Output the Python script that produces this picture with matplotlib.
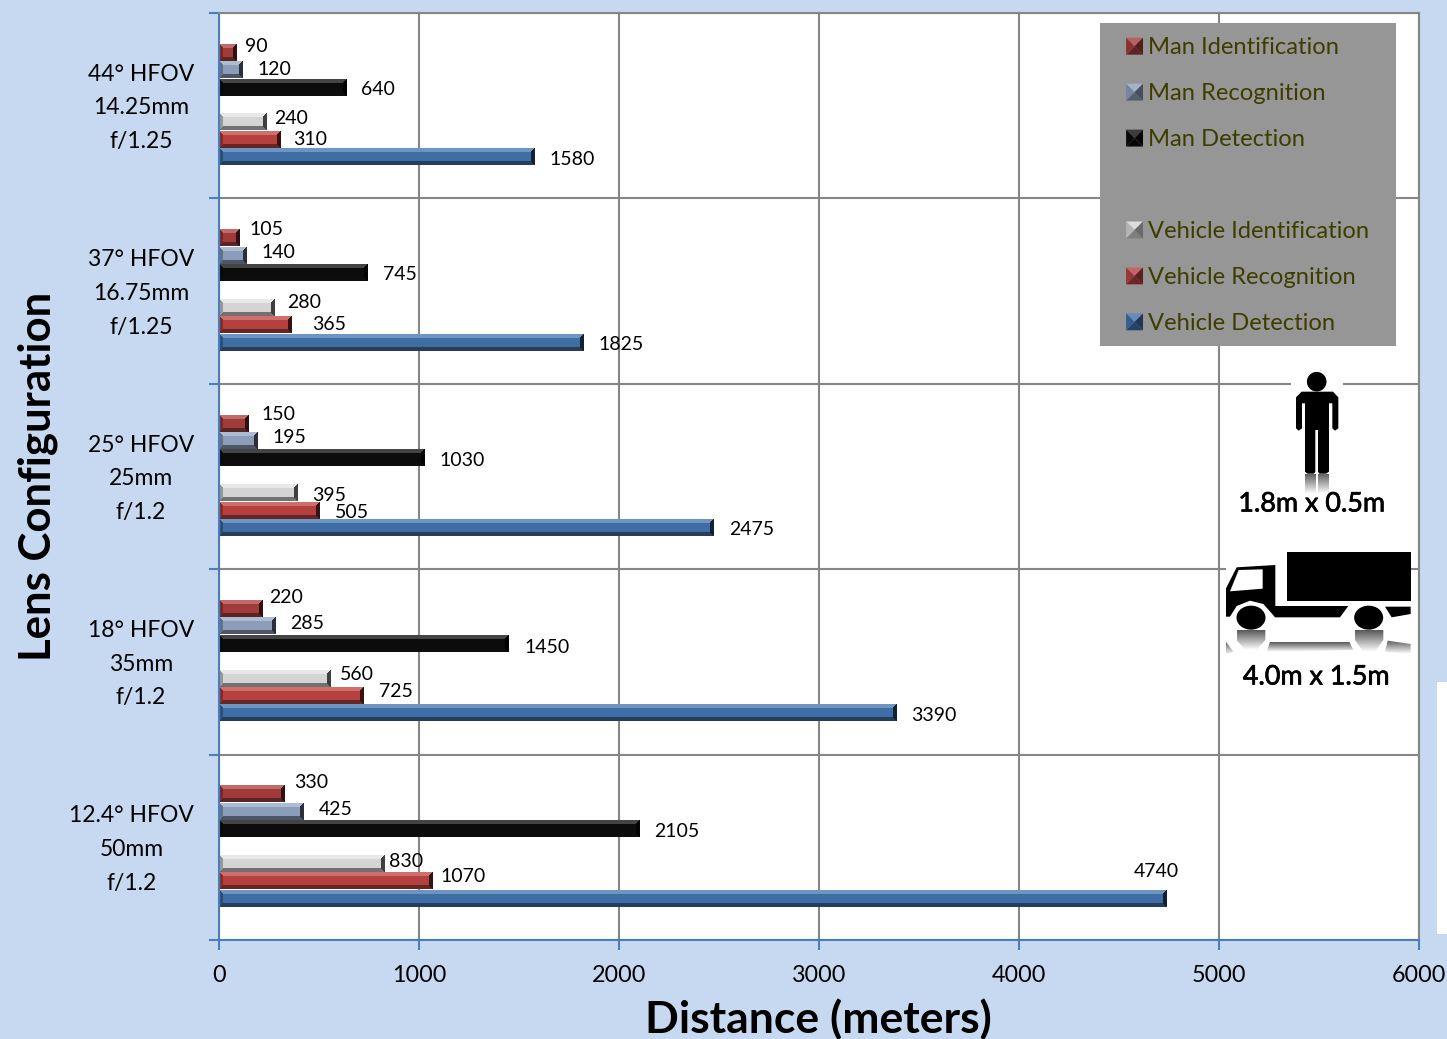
import numpy as np
import matplotlib
matplotlib.use("Agg")
import matplotlib.pyplot as plt
import matplotlib.patheffects as pe
from matplotlib.patches import Patch, Polygon, Rectangle, Circle, Ellipse
from matplotlib.legend_handler import HandlerBase

# ---- data -------------------------------------------------------------
lens_labels = ["12.4° HFOV\n50mm\nf/1.2", "18° HFOV\n35mm\nf/1.2", "25° HFOV\n25mm\nf/1.2",
               "37° HFOV\n16.75mm\nf/1.25", "44° HFOV\n14.25mm\nf/1.25"]
vehicle_detection = [4740, 3390, 2475, 1825, 1580]
vehicle_recognition = [1070, 725, 505, 365, 310]
vehicle_identification = [830, 560, 395, 280, 240]
man_detection = [2105, 1450, 1030, 745, 640]
man_recognition = [425, 285, 195, 140, 120]
man_identification = [330, 220, 150, 105, 90]
x_ticks = [0, 1000, 2000, 3000, 4000, 5000, 6000]

# label offsets (px): horizontal from bar end, vertical above bar centre
lab_dx = {
 "vd": [-33, 15, 16, 15, 15], "vr": [8, 16, 15, 21, 13], "vi": [5, 9, 15, 13, 8],
 "md": [15, 16, 15, 15, 15], "mr": [15, 15, 15, 15, 15], "mi": [10, 7, 13, 10, 9]}
lab_dy = {
 "vd": [28, -2, -1, -2, -2], "vr": [5, 5, -2, 1, 1], "vi": [3, 4, -2, 6, 4],
 "md": [-2, -3, -2, -1, -2], "mr": [3, 3, 4, 3, 1], "mi": [12, 12, 9, 9, 7]}

series = [  # key, label, values, base colour, slot
 ("vd", "Vehicle Detection", vehicle_detection, "#3f6ea6", -3),
 ("vr", "Vehicle Recognition", vehicle_recognition, "#b5403d", -2),
 ("vi", "Vehicle Identification", vehicle_identification, "#d4d4d4", -1),
 ("md", "Man Detection", man_detection, "#0c0c0c", 1),
 ("mr", "Man Recognition", man_recognition, "#8c9dbb", 2),
 ("mi", "Man Identification", man_identification, "#a23b39", 3),
]

W, H = 1447, 1039
BG = "#c6d9f1"
GRID = "#868686"
BLUE = "#4a7ebb"
FONT = "Lato"
plt.rcParams["font.family"] = [FONT, "DejaVu Sans"]

fig = plt.figure(figsize=(W / 100, H / 100), dpi=100, facecolor=BG)
L, R, T, B = 219, 1419, 13, 940
ax = fig.add_axes([L / W, 1 - B / H, (R - L) / W, (B - T) / H], facecolor="white")
PXX = (R - L) / 6000
PXY = (B - T) / 5
slot = 17.4 / PXY
bar_h = 16.6 / PXY


def bevel(color, w, h, b=4.0):
    """RGB array for a bevelled bar of w x h pixels."""
    w, h = max(int(round(w)), 2), max(int(round(h)), 2)
    base = np.array(matplotlib.colors.to_rgb(color))
    yy, xx = np.mgrid[0:h, 0:w] + 0.5
    dt, db, dl, dr = yy, h - yy, xx, w - xx
    dmin = np.minimum.reduce([dt, db, dl, dr])
    img = np.tile(base, (h, w, 1))
    light = base + (1 - base) * 0.18 + 0.05
    dark = base * 0.5 + 0.03
    edge = dmin < b
    img[edge & (dt == dmin)] = light
    img[edge & (db == dmin)] = dark
    img[edge & (dl == dmin)] = base * 0.72
    img[edge & (dr == dmin)] = base * 0.3
    return np.clip(img, 0, 1)


ax.set_axisbelow(True)
for key, label, values, color, s in series:
    ys = np.arange(5) + 0.5 + 0.005 + s * slot
    ax.barh(ys, values, height=bar_h, color=color, zorder=2, linewidth=0)
    for i, (v, y) in enumerate(zip(values, ys)):
        ax.imshow(bevel(color, v * PXX, 16.6), extent=(0, v, y - bar_h / 2, y + bar_h / 2),
                  aspect="auto", origin="upper", interpolation="bilinear", zorder=2.5)
        ax.annotate(str(v), xy=(v, y), xytext=((lab_dx[key][i] - 0.5) * 0.72, (lab_dy[key][i] - 0.5) * 0.72),
                    textcoords="offset points", ha="left", va="center",
                    fontsize=14, color="black", zorder=4)

ax.set_xlim(0, 6000)
ax.set_ylim(0, 5)
ax.set_xticks(x_ticks)
ax.set_yticks(range(6))
ax.set_yticks(np.arange(5) + 0.533, minor=True)
ax.set_yticklabels([])
ax.set_yticklabels(lens_labels, minor=True, ha="right", multialignment="center",
                   fontsize=16.5, linespacing=1.75)
ax.tick_params(axis="y", which="minor", length=0, pad=18)
ax.tick_params(axis="y", which="major", length=7, color=BLUE, width=1.5)
ax.tick_params(axis="x", length=7, color=BLUE, width=1.5, labelsize=16.8, pad=11)
ax.grid(True, which="major", color=GRID, linewidth=1.5, zorder=1)
for side in ("top", "right"):
    ax.spines[side].set_color(GRID)
    ax.spines[side].set_linewidth(1.5)
for side in ("left", "bottom"):
    ax.spines[side].set_color(BLUE)
    ax.spines[side].set_linewidth(1.5)

# axis titles
fig.text(818 / W, 1 - 1019 / H, "Distance (meters)", ha="center", va="center",
         fontsize=32, fontweight="bold")
fig.text(38 / W, 1 - 476 / H, "Lens Configuration", ha="center", va="center",
         rotation=90, fontsize=31.5, fontweight="bold")

# ---- overlay in pixel coordinates for legend box and icons -------------
ov = fig.add_axes([0, 0, 1, 1], facecolor="none", zorder=5)
ov.set_xlim(0, W)
ov.set_ylim(H, 0)
ov.axis("off")
ov.add_patch(Rectangle((1100, 23), 296, 323, facecolor="#969696", edgecolor="none"))
ov.add_patch(Rectangle((1437, 682), 10, 252, facecolor="white", edgecolor="none"))


class PyramidHandler(HandlerBase):
    def create_artists(self, legend, orig, xd, yd, width, height, fontsize, trans):
        c = np.array(matplotlib.colors.to_rgb(orig.get_facecolor()))
        s = min(width, height) * 1.0
        x0, y0 = (width - s) / 2 - xd, (height - s) / 2 - yd
        x1, y1 = x0 + s, y0 + s
        mx, my = (x0 + x1) / 2, (y0 + y1) / 2
        faces = [([(x0, y1), (x1, y1), (mx, my)], np.clip(c + (1 - c) * 0.2, 0, 1)),
                 ([(x0, y0), (x1, y0), (mx, my)], c * 0.6),
                 ([(x0, y0), (x0, y1), (mx, my)], c * 0.85),
                 ([(x1, y0), (x1, y1), (mx, my)], c * 0.5)]
        return [Polygon(p, closed=True, facecolor=col, edgecolor="none", transform=trans)
                for p, col in faces]


order = ["mi", "mr", "md", None, "vi", "vr", "vd"]
by_key = {s[0]: s for s in series}
handles, labels, hmap = [], [], {}
for k in order:
    if k is None:
        h = Patch(facecolor="none", edgecolor="none")
        handles.append(h)
        labels.append(" ")
    else:
        h = Patch(facecolor=by_key[k][3])
        handles.append(h)
        labels.append(by_key[k][1])
        hmap[h] = PyramidHandler()
leg = ov.legend(handles, labels, handler_map=hmap, loc="upper left",
                bbox_to_anchor=(1126 / W, 1 - 37.5 / H), bbox_transform=fig.transFigure,
                frameon=False, borderpad=0, borderaxespad=0, fontsize=17.1,
                labelcolor="#3d3d00", handlelength=0.72, handleheight=0.72, handletextpad=0.2,
                labelspacing=1.05)

# person icon
ov.add_patch(Rectangle((1291, 372), 52, 20, facecolor="white", edgecolor="none"))
def z(pts):
    return [(x / 3 + 1090, y / 3 + 350) for x, y in pts]
ov.add_patch(Circle((1316.7, 381.7), 9.8, facecolor="black", edgecolor="none"))
body = z([(635, 125), (729, 125), (745, 142), (745, 235), (735, 242), (727, 235), (727, 160),
          (717, 160), (717, 365), (708, 371), (688, 371), (684, 365), (684, 240), (676, 240),
          (676, 365), (672, 371), (652, 371), (645, 365), (645, 160), (636, 160), (636, 235),
          (626, 242), (618, 235), (618, 142)])
ov.add_patch(Polygon(body, closed=True, facecolor="black", edgecolor="none"))
grad = np.linspace(0.35, 1, 32).reshape(-1, 1)
for leg_poly in ([(645, 372), (677, 372), (677, 430), (645, 430)],
                 [(683, 372), (717, 372), (717, 430), (683, 430)]):
    im = ov.imshow(grad, extent=(1304, 1330, 494, 473), cmap="gray", vmin=0, vmax=1,
                   aspect="auto", zorder=2)
    im.set_clip_path(Polygon(z(leg_poly), transform=ov.transData))

# truck icon
ov.add_patch(Rectangle((1226, 552), 185, 103, facecolor="white", edgecolor="none"))
ov.add_patch(Polygon(z([(590, 606), (962, 606), (962, 752), (590, 752)]), closed=True, facecolor="black", edgecolor="none"))
cab = z([(440, 652), (556, 645), (556, 768), (775, 768), (750, 802), (555, 802), (545, 790),
         (520, 762), (480, 752), (440, 768), (420, 800), (408, 800), (408, 715)])
ov.add_patch(Polygon(cab, closed=True, facecolor="black", edgecolor="none"))
ov.add_patch(Polygon(z([(885, 770), (962, 770), (962, 792), (905, 802)]), closed=True, facecolor="black", edgecolor="none"))
ov.add_patch(Polygon(z([(446, 660), (518, 658), (518, 716), (420, 724)]), closed=True, facecolor="white", edgecolor="none", zorder=3))
for cx in (483, 836):
    ov.add_patch(Ellipse((cx / 3 + 1090, 803 / 3 + 350), 29, 24, facecolor="black", edgecolor="none"))

grad2 = np.linspace(0.35, 1, 32).reshape(-1, 1)
for poly in ([(440, 840), (526, 840), (526, 870), (500, 900), (465, 900), (440, 870)],
             [(795, 840), (880, 840), (880, 870), (855, 905), (820, 905), (795, 870)],
             [(540, 875), (778, 875), (790, 900), (530, 905)],
             [(893, 872), (962, 882), (962, 912), (885, 905)],
             [(408, 875), (430, 905), (408, 915)]):
    pz = z(poly)
    g = ov.imshow(grad2, extent=(min(p[0] for p in pz), max(p[0] for p in pz),
                                 max(p[1] for p in pz), min(p[1] for p in pz)),
                  cmap="gray", vmin=0, vmax=1, aspect="auto", zorder=2)
    g.set_clip_path(Polygon(pz, transform=ov.transData))

ov.set_xlim(0, W)
ov.set_ylim(H, 0)
stroke = [pe.withStroke(linewidth=0.5, foreground="black")]
ov.text(1311.5, 504, "1.8m x 0.5m", ha="center", va="center", fontsize=19.4, color="black", zorder=6, path_effects=stroke)
ov.text(1316, 677, "4.0m x 1.5m", ha="center", va="center", fontsize=19.4, color="black", zorder=6, path_effects=stroke)

fig.savefig("out.png", dpi=100, facecolor=BG)
